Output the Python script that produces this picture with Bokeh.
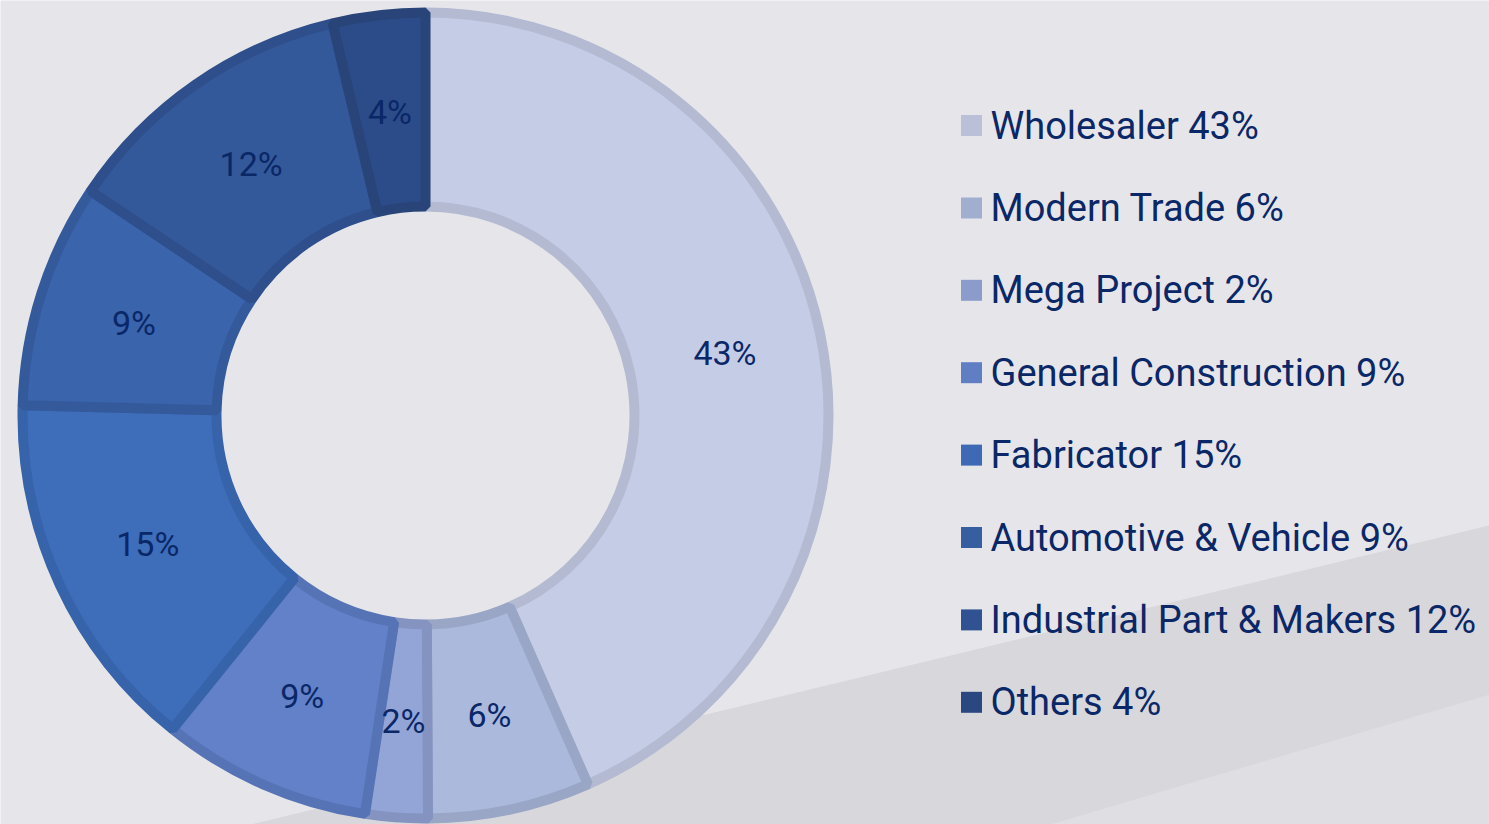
import math
from bokeh.plotting import figure
from bokeh.models import ColumnDataSource
from bokeh.core.properties import value
from bokeh.embed import file_html
from bokeh.resources import INLINE

# ---- data ----
categories = ["Wholesaler", "Modern Trade", "Mega Project", "General Construction",
              "Fabricator", "Automotive & Vehicle", "Industrial Part & Makers", "Others"]
# slice shares as drawn in the picture (percent of the ring)
shares = [43.4, 6.5, 2.5, 8.4, 14.6, 9.0, 11.9, 3.7]
# percentages printed on the chart
labels = ["43%", "6%", "2%", "9%", "15%", "9%", "12%", "4%"]

fill_colors = ["#c5cde6", "#abb9dc", "#93a5d7", "#6281c9",
               "#3e6db9", "#3a64ab", "#34599a", "#2c4c89"]
edge_colors = ["#b3bad2", "#9aa6c6", "#8493c0", "#5573b5",
               "#3763aa", "#345a9c", "#2e4f8c", "#284479"]
legend_colors = ["#b9c0d7", "#a2aed0", "#8b9bcb", "#5f7ec4",
                 "#3d69b5", "#385ea2", "#305292", "#2b4781"]
text_color = "#0a2767"

W, H = 1489, 824
p = figure(width=W, height=H, x_range=(0, W), y_range=(0, H),
           output_backend="svg", toolbar_location=None, min_border=0)
p.axis.visible = False
p.grid.visible = False
p.outline_line_color = None
p.background_fill_color = "#e6e6ea"
p.border_fill_color = "#e6e6ea"

# decorative background shading
p.patch([250, 1489, 1489, 250], [0, 299, 0, 0], fill_color="#d8d8dc", line_color=None)
p.patch([1050, 1489, 1489, 1050], [0, 130, 0, 0], fill_color="#dfdfe3", line_color=None)

# ---- donut ----
cx, cy = 425, 409
r_out, r_in, lw = 408, 204, 10
total = sum(shares)
starts, ends, mids = [], [], []
acc = 0.0
for s in shares:
    a0 = math.pi / 2 - 2 * math.pi * acc / total
    acc += s
    a1 = math.pi / 2 - 2 * math.pi * acc / total
    starts.append(a0)
    ends.append(a1)
    mids.append((a0 + a1) / 2)

src = ColumnDataSource(dict(x=[cx] * len(shares), y=[cy] * len(shares),
                            start=starts, end=ends, fill=fill_colors, edge=edge_colors))
p.annular_wedge(x="x", y="y", inner_radius=r_in + lw / 2, outer_radius=r_out - lw / 2,
                start_angle="start", end_angle="end", direction="clock",
                fill_color="fill", line_color="edge", line_width=lw, source=src)

r_lab = 306
lab_src = ColumnDataSource(dict(x=[cx + r_lab * math.cos(m) for m in mids],
                                y=[cy + r_lab * math.sin(m) for m in mids],
                                t=labels))
p.text(x="x", y="y", text="t", source=lab_src, text_align="center",
       text_baseline="middle", text_color=text_color, text_font=value("Roboto"),
       text_font_size="34px")

# ---- legend ----
leg_x, leg_top, leg_gap = 971, 699, 82.4
leg_y = [leg_top - i * leg_gap for i in range(len(categories))]
leg_src = ColumnDataSource(dict(x=[leg_x] * len(categories), y=leg_y,
                                c=legend_colors,
                                t=[f"{c} {l}" for c, l in zip(categories, labels)]))
p.rect(x="x", y="y", width=21, height=21, fill_color="c", line_color=None, source=leg_src)
p.text(x=leg_x + 19, y="y", text="t", source=leg_src, text_align="left",
       text_baseline="middle", text_color=text_color, text_font=value("Roboto"),
       text_font_size="38px")

open("out.html", "w").write(file_html(p, INLINE))
